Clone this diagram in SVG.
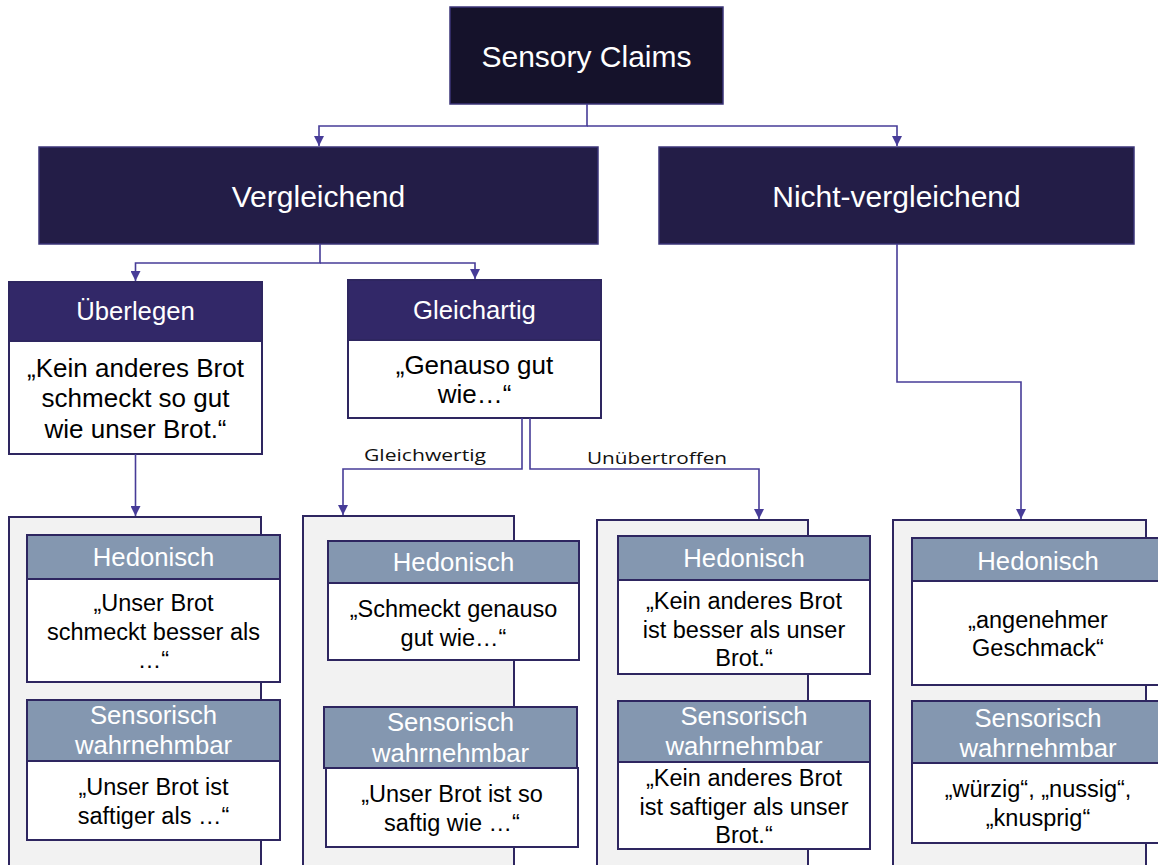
<svg xmlns="http://www.w3.org/2000/svg" width="1158" height="865" viewBox="0 0 1158 865">
<defs>
<marker id="arr" viewBox="0 0 10 10" refX="10" refY="5" markerWidth="10" markerHeight="10" markerUnits="userSpaceOnUse" orient="auto">
<path d="M0,0 L10,5 L0,10 z" fill="#473c98"/>
</marker>
<style>
text{font-family:"Liberation Sans",Arial,sans-serif;text-anchor:middle}
.top{fill:#15122b;stroke:#3b3478;stroke-width:1.5}
.lvl1{fill:#231d47;stroke:#3b3478;stroke-width:1.5}
.hdr{fill:#322868;stroke:#2e2660;stroke-width:2}
.body{fill:#ffffff;stroke:#2e2660;stroke-width:2}
.sub{fill:#8497b0;stroke:#2e2660;stroke-width:2}
.cont{fill:#f2f2f2;stroke:#2e2660;stroke-width:2}
.wt{fill:#ffffff}
.t28{font-size:30px}
.t25{font-size:25.7px}
.bk{fill:#000000;font-size:23.5px}
.bk2{fill:#000000;font-size:26px}
.lbl{font-family:"Open Sans","Noto Sans",sans-serif;font-size:17px;fill:#111111}
.ln{fill:none;stroke:#473c98;stroke-width:1.6}
</style>
</defs>
<rect width="1158" height="865" fill="#ffffff"/>

<g id="node-sensory">
<rect class="top" x="450" y="7" width="273" height="97"/>
<text class="wt t28" x="586.5" y="67">Sensory Claims</text>
</g>
<g id="node-vergleichend">
<rect class="lvl1" x="39" y="147" width="559" height="97"/>
<text class="wt t28" x="318.5" y="207">Vergleichend</text>
</g>
<g id="node-nicht">
<rect class="lvl1" x="659" y="147" width="475" height="97"/>
<text class="wt t28" x="896.5" y="207">Nicht-vergleichend</text>
</g>

<g id="node-ueberlegen">
<rect class="hdr" x="9" y="282" width="253" height="59"/>
<rect class="body" x="9" y="341" width="253" height="113"/>
<text class="wt t25" x="135.5" y="320">Überlegen</text>
<text class="bk2" x="135.5" y="377">„Kein anderes Brot</text>
<text class="bk2" x="135.5" y="407">schmeckt so gut</text>
<text class="bk2" x="135.5" y="438">wie unser Brot.“</text>
</g>
<g id="node-gleichartig">
<rect class="hdr" x="348" y="280" width="253" height="60"/>
<rect class="body" x="348" y="340" width="253" height="78"/>
<text class="wt t25" x="474.5" y="319">Gleichartig</text>
<text class="bk2" x="474.5" y="374">„Genauso gut</text>
<text class="bk2" x="474.5" y="403">wie…“</text>
</g>

<g id="node-col1">
<rect class="cont" x="9" y="517" width="252" height="360"/>
<rect class="sub" x="27" y="535" width="253" height="44"/>
<rect class="body" x="27" y="579" width="253" height="103"/>
<text class="wt t25" x="153.5" y="566">Hedonisch</text>
<text class="bk" x="153.5" y="611">„Unser Brot</text>
<text class="bk" x="153.5" y="640">schmeckt besser als</text>
<text class="bk" x="153.5" y="668">…“</text>
<rect class="sub" x="27" y="700" width="253" height="61"/>
<rect class="body" x="27" y="761" width="253" height="79"/>
<text class="wt t25" x="153.5" y="724">Sensorisch</text>
<text class="wt t25" x="153.5" y="754">wahrnehmbar</text>
<text class="bk" x="153.5" y="795">„Unser Brot ist</text>
<text class="bk" x="153.5" y="824">saftiger als …“</text>
</g>

<g id="node-col2">
<rect class="cont" x="303" y="516" width="211" height="360"/>
<rect class="sub" x="328" y="541" width="251" height="42"/>
<rect class="body" x="328" y="583" width="251" height="77"/>
<text class="wt t25" x="453.5" y="571">Hedonisch</text>
<text class="bk" x="453.5" y="617">„Schmeckt genauso</text>
<text class="bk" x="453.5" y="646">gut wie…“</text>
<rect class="sub" x="324" y="707" width="253" height="61"/>
<rect class="body" x="326" y="768" width="252" height="79"/>
<text class="wt t25" x="450.5" y="731">Sensorisch</text>
<text class="wt t25" x="450.5" y="762">wahrnehmbar</text>
<text class="bk" x="452" y="802">„Unser Brot ist so</text>
<text class="bk" x="452" y="831">saftig wie …“</text>
</g>

<g id="node-col3">
<rect class="cont" x="597" y="520" width="211" height="360"/>
<rect class="sub" x="618" y="536" width="252" height="44"/>
<rect class="body" x="618" y="580" width="252" height="94"/>
<text class="wt t25" x="744" y="567">Hedonisch</text>
<text class="bk" x="744" y="609">„Kein anderes Brot</text>
<text class="bk" x="744" y="638">ist besser als unser</text>
<text class="bk" x="744" y="666">Brot.“</text>
<rect class="sub" x="618" y="701" width="252" height="61"/>
<rect class="body" x="618" y="762" width="252" height="87"/>
<text class="wt t25" x="744" y="725">Sensorisch</text>
<text class="wt t25" x="744" y="755">wahrnehmbar</text>
<text class="bk" x="744" y="786">„Kein anderes Brot</text>
<text class="bk" x="744" y="815">ist saftiger als unser</text>
<text class="bk" x="744" y="843">Brot.“</text>
</g>

<g id="node-col4">
<rect class="cont" x="893" y="520" width="253" height="360"/>
<rect class="sub" x="912" y="538" width="252" height="43"/>
<rect class="body" x="912" y="581" width="252" height="104"/>
<text class="wt t25" x="1038" y="570">Hedonisch</text>
<text class="bk" x="1038" y="628">„angenehmer</text>
<text class="bk" x="1038" y="656">Geschmack“</text>
<rect class="sub" x="912" y="701" width="252" height="62"/>
<rect class="body" x="912" y="763" width="252" height="80"/>
<text class="wt t25" x="1038" y="727">Sensorisch</text>
<text class="wt t25" x="1038" y="757">wahrnehmbar</text>
<text class="bk" x="1038" y="797">„würzig“, „nussig“,</text>
<text class="bk" x="1038" y="826">„knusprig“</text>
</g>

<g id="connectors">
<path class="ln" d="M587,104 V126 H319 V146" marker-end="url(#arr)"/>
<path class="ln" d="M587,126 H897 V146" marker-end="url(#arr)"/>
<path class="ln" d="M320,244 V263 H135.5 V281" marker-end="url(#arr)"/>
<path class="ln" d="M320,263 H475 V279" marker-end="url(#arr)"/>
<path class="ln" d="M135.5,454 V516" marker-end="url(#arr)"/>
<path class="ln" d="M522,418 V469 H343 V515" marker-end="url(#arr)"/>
<path class="ln" d="M530,418 V469 H759 V519" marker-end="url(#arr)"/>
<path class="ln" d="M897,244 V382 H1021 V519" marker-end="url(#arr)"/>
<text class="lbl" x="425" y="461" textLength="122" lengthAdjust="spacingAndGlyphs">Gleichwertig</text>
<text class="lbl" x="657" y="464" textLength="140" lengthAdjust="spacingAndGlyphs">Unübertroffen</text>
</g>
</svg>
